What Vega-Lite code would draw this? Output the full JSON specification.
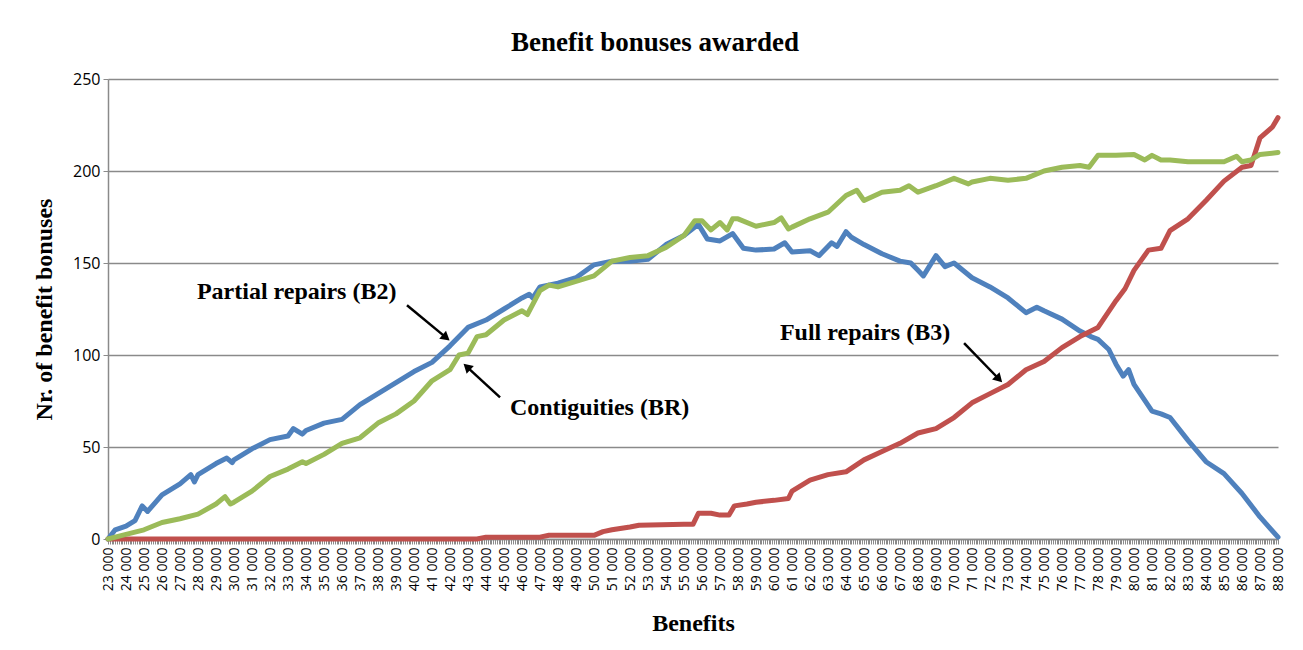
{
  "$schema": "https://vega.github.io/schema/vega-lite/v6.json",
  "width": 1170,
  "height": 460,
  "autosize": {"type": "none"},
  "padding": {"left": 108, "top": 79, "right": 25, "bottom": 111},
  "background": "white",
  "config": {"view": {"stroke": null}},
  "title": {"text": "Benefit bonuses awarded", "font": "Liberation Serif", "fontSize": 27, "fontWeight": "bold", "color": "black", "anchor": "middle", "baseline": "alphabetic", "offset": -7, "dx": -38},
  "datasets": {
    "series": [
      {"b":23000,"s":"B2","n":0},{"b":23400,"s":"B2","n":5},{"b":24000,"s":"B2","n":7},{"b":24500,"s":"B2","n":10},{"b":24900,"s":"B2","n":18},{"b":25200,"s":"B2","n":15},{"b":26000,"s":"B2","n":24},{"b":27000,"s":"B2","n":30},{"b":27600,"s":"B2","n":35},{"b":27800,"s":"B2","n":31},{"b":28000,"s":"B2","n":35},{"b":29000,"s":"B2","n":41},{"b":29600,"s":"B2","n":44},{"b":29900,"s":"B2","n":41.5},{"b":30000,"s":"B2","n":43},{"b":31000,"s":"B2","n":49},{"b":32000,"s":"B2","n":54},{"b":33000,"s":"B2","n":56},{"b":33300,"s":"B2","n":60},{"b":33800,"s":"B2","n":57},{"b":34000,"s":"B2","n":59},{"b":35000,"s":"B2","n":63},{"b":36000,"s":"B2","n":65},{"b":37000,"s":"B2","n":73},{"b":38000,"s":"B2","n":79},{"b":39000,"s":"B2","n":85},{"b":40000,"s":"B2","n":91},{"b":41000,"s":"B2","n":96},{"b":42000,"s":"B2","n":105},{"b":43000,"s":"B2","n":115},{"b":44000,"s":"B2","n":119},{"b":45000,"s":"B2","n":125},{"b":46000,"s":"B2","n":131},{"b":46400,"s":"B2","n":133},{"b":46600,"s":"B2","n":131},{"b":47000,"s":"B2","n":137},{"b":48000,"s":"B2","n":139},{"b":49000,"s":"B2","n":142},{"b":50000,"s":"B2","n":149},{"b":51000,"s":"B2","n":151},{"b":52000,"s":"B2","n":151},{"b":53000,"s":"B2","n":152},{"b":54000,"s":"B2","n":160},{"b":55000,"s":"B2","n":165},{"b":55800,"s":"B2","n":171},{"b":56300,"s":"B2","n":163},{"b":57000,"s":"B2","n":162},{"b":57700,"s":"B2","n":166},{"b":58300,"s":"B2","n":158},{"b":59000,"s":"B2","n":157},{"b":60000,"s":"B2","n":157.6},{"b":60600,"s":"B2","n":161},{"b":61000,"s":"B2","n":156},{"b":62000,"s":"B2","n":156.7},{"b":62500,"s":"B2","n":154},{"b":63200,"s":"B2","n":161},{"b":63500,"s":"B2","n":159},{"b":64000,"s":"B2","n":167},{"b":64300,"s":"B2","n":164},{"b":65000,"s":"B2","n":160},{"b":66000,"s":"B2","n":155},{"b":67000,"s":"B2","n":151},{"b":67600,"s":"B2","n":150},{"b":68000,"s":"B2","n":146},{"b":68300,"s":"B2","n":143},{"b":69000,"s":"B2","n":154},{"b":69500,"s":"B2","n":148},{"b":70000,"s":"B2","n":150},{"b":71000,"s":"B2","n":142},{"b":72000,"s":"B2","n":137},{"b":73000,"s":"B2","n":131},{"b":74000,"s":"B2","n":123},{"b":74600,"s":"B2","n":126},{"b":75000,"s":"B2","n":124},{"b":76000,"s":"B2","n":119.5},{"b":77000,"s":"B2","n":113},{"b":77600,"s":"B2","n":110},{"b":78000,"s":"B2","n":108.5},{"b":78600,"s":"B2","n":103},{"b":79000,"s":"B2","n":95},{"b":79400,"s":"B2","n":88.5},{"b":79700,"s":"B2","n":92},{"b":80000,"s":"B2","n":84},{"b":81000,"s":"B2","n":69.5},{"b":81500,"s":"B2","n":68},{"b":82000,"s":"B2","n":66},{"b":83000,"s":"B2","n":53.6},{"b":84000,"s":"B2","n":42},{"b":85000,"s":"B2","n":35.5},{"b":86000,"s":"B2","n":24.7},{"b":87000,"s":"B2","n":12},{"b":88000,"s":"B2","n":1},
      {"b":23000,"s":"BR","n":0},{"b":24000,"s":"BR","n":2.5},{"b":25000,"s":"BR","n":5},{"b":26000,"s":"BR","n":9},{"b":27000,"s":"BR","n":11},{"b":28000,"s":"BR","n":13.5},{"b":29000,"s":"BR","n":19},{"b":29500,"s":"BR","n":23},{"b":29800,"s":"BR","n":19},{"b":30000,"s":"BR","n":20},{"b":31000,"s":"BR","n":26},{"b":32000,"s":"BR","n":34},{"b":33000,"s":"BR","n":38},{"b":33800,"s":"BR","n":42},{"b":34000,"s":"BR","n":41},{"b":35000,"s":"BR","n":46},{"b":36000,"s":"BR","n":52},{"b":37000,"s":"BR","n":55},{"b":38000,"s":"BR","n":63},{"b":39000,"s":"BR","n":68},{"b":40000,"s":"BR","n":75},{"b":41000,"s":"BR","n":86},{"b":42000,"s":"BR","n":92},{"b":42500,"s":"BR","n":100},{"b":43000,"s":"BR","n":101},{"b":43500,"s":"BR","n":110},{"b":44000,"s":"BR","n":111},{"b":45000,"s":"BR","n":119},{"b":46000,"s":"BR","n":124},{"b":46300,"s":"BR","n":122},{"b":47000,"s":"BR","n":135},{"b":47500,"s":"BR","n":138},{"b":48000,"s":"BR","n":137},{"b":49000,"s":"BR","n":140},{"b":50000,"s":"BR","n":143},{"b":51000,"s":"BR","n":151},{"b":52000,"s":"BR","n":153},{"b":53000,"s":"BR","n":154},{"b":54000,"s":"BR","n":158.5},{"b":55000,"s":"BR","n":165},{"b":55600,"s":"BR","n":173},{"b":56000,"s":"BR","n":173},{"b":56500,"s":"BR","n":168},{"b":57000,"s":"BR","n":172},{"b":57400,"s":"BR","n":168},{"b":57700,"s":"BR","n":174},{"b":58000,"s":"BR","n":174},{"b":59000,"s":"BR","n":170},{"b":60000,"s":"BR","n":172},{"b":60400,"s":"BR","n":174.5},{"b":60800,"s":"BR","n":168.5},{"b":61000,"s":"BR","n":169.5},{"b":62000,"s":"BR","n":174},{"b":63000,"s":"BR","n":177.6},{"b":64000,"s":"BR","n":186.7},{"b":64600,"s":"BR","n":189.5},{"b":65000,"s":"BR","n":184},{"b":66000,"s":"BR","n":188.5},{"b":67000,"s":"BR","n":189.5},{"b":67500,"s":"BR","n":192},{"b":68000,"s":"BR","n":188.5},{"b":69000,"s":"BR","n":192},{"b":70000,"s":"BR","n":196},{"b":70800,"s":"BR","n":193},{"b":71000,"s":"BR","n":194},{"b":72000,"s":"BR","n":196},{"b":73000,"s":"BR","n":195},{"b":74000,"s":"BR","n":196},{"b":75000,"s":"BR","n":200},{"b":76000,"s":"BR","n":202},{"b":77000,"s":"BR","n":203},{"b":77500,"s":"BR","n":202},{"b":78000,"s":"BR","n":208.5},{"b":79000,"s":"BR","n":208.5},{"b":80000,"s":"BR","n":209},{"b":80600,"s":"BR","n":206},{"b":81000,"s":"BR","n":208.5},{"b":81500,"s":"BR","n":206},{"b":82000,"s":"BR","n":206},{"b":83000,"s":"BR","n":205},{"b":84000,"s":"BR","n":205},{"b":85000,"s":"BR","n":205},{"b":85700,"s":"BR","n":208},{"b":86000,"s":"BR","n":205},{"b":86500,"s":"BR","n":206},{"b":87000,"s":"BR","n":209},{"b":88000,"s":"BR","n":210},
      {"b":23000,"s":"B3","n":0},{"b":43500,"s":"B3","n":0},{"b":44000,"s":"B3","n":1},{"b":47000,"s":"B3","n":1},{"b":47500,"s":"B3","n":2},{"b":50000,"s":"B3","n":2},{"b":50500,"s":"B3","n":4},{"b":51000,"s":"B3","n":5},{"b":52000,"s":"B3","n":6.5},{"b":52500,"s":"B3","n":7.5},{"b":55000,"s":"B3","n":8},{"b":55500,"s":"B3","n":8},{"b":55800,"s":"B3","n":14},{"b":56500,"s":"B3","n":14},{"b":57000,"s":"B3","n":13},{"b":57500,"s":"B3","n":13},{"b":57800,"s":"B3","n":18},{"b":58500,"s":"B3","n":19},{"b":59000,"s":"B3","n":20},{"b":60000,"s":"B3","n":21},{"b":60800,"s":"B3","n":22},{"b":61000,"s":"B3","n":26},{"b":62000,"s":"B3","n":32},{"b":63000,"s":"B3","n":35},{"b":64000,"s":"B3","n":36.5},{"b":65000,"s":"B3","n":43},{"b":66000,"s":"B3","n":47.5},{"b":67000,"s":"B3","n":52},{"b":68000,"s":"B3","n":57.6},{"b":69000,"s":"B3","n":60},{"b":70000,"s":"B3","n":66},{"b":71000,"s":"B3","n":74},{"b":72000,"s":"B3","n":79},{"b":73000,"s":"B3","n":84},{"b":74000,"s":"B3","n":92},{"b":75000,"s":"B3","n":96.5},{"b":76000,"s":"B3","n":104},{"b":77000,"s":"B3","n":110},{"b":78000,"s":"B3","n":115},{"b":79000,"s":"B3","n":129.5},{"b":79500,"s":"B3","n":136},{"b":80000,"s":"B3","n":146},{"b":80800,"s":"B3","n":157},{"b":81500,"s":"B3","n":158},{"b":82000,"s":"B3","n":167.6},{"b":83000,"s":"B3","n":174},{"b":84000,"s":"B3","n":184},{"b":85000,"s":"B3","n":194.5},{"b":86000,"s":"B3","n":202},{"b":86500,"s":"B3","n":203},{"b":87000,"s":"B3","n":218},{"b":87700,"s":"B3","n":224},{"b":88000,"s":"B3","n":229}
    ],
    "labels": [
      {"id":"B2","t":"Partial repairs (B2)","b":27940,"n":134},
      {"id":"BR","t":"Contiguities (BR)","b":45330,"n":71},
      {"id":"B3","t":"Full repairs (B3)","b":60330,"n":112}
    ],
    "arrows": [
      {"id":"B2","b":39610,"n":127,"b2":41720,"n2":110},
      {"id":"BR","b":44780,"n":77,"b2":43000,"n2":93},
      {"id":"B3","b":70560,"n":106.5,"b2":72440,"n2":87.5}
    ]
  },
  "layer": [
    {
      "data": {"name": "series"},
      "transform": [{"filter": "datum.s === 'B2'"}],
      "mark": {"type": "line", "color": "#4F81BD", "strokeWidth": 5, "strokeJoin": "round", "strokeCap": "round"},
      "encoding": {
        "x": {"field": "b", "type": "quantitative", "scale": {"domain": [23000, 88000], "nice": false, "zero": false},
          "axis": {"title": "Benefits", "titleFont": "Liberation Serif", "titleFontSize": 24, "titleFontWeight": "bold", "titleColor": "black", "titlePadding": 21,
            "tickCount": 650, "labelExpr": "datum.value % 1000 === 0 ? replace(format(datum.value, ','), ',', ' ') : ''",
            "labelAngle": -90, "labelAlign": "right", "labelBaseline": "middle", "labelFont": "Open Sans", "labelFontSize": 14, "labelColor": "black",
            "labelOverlap": false, "labelFlush": false, "labelBound": false, "labelPadding": 3,
            "grid": false, "tickColor": "#8a8a8a", "tickSize": 5, "domainColor": "#8a8a8a", "domainWidth": 1.5}},
        "y": {"field": "n", "type": "quantitative", "scale": {"domain": [0, 250], "nice": false},
          "axis": {"title": "Nr. of benefit bonuses", "titleFont": "Liberation Serif", "titleFontSize": 24, "titleFontWeight": "bold", "titleColor": "black", "titlePadding": 16,
            "values": [0, 50, 100, 150, 200, 250], "labelFont": "Open Sans", "labelFontSize": 16, "labelColor": "black", "labelPadding": 3,
            "grid": true, "gridColor": "#8a8a8a", "gridWidth": 1.3, "tickColor": "#8a8a8a", "tickSize": 5, "domainColor": "#8a8a8a", "domainWidth": 1.5}}
      }
    },
    {
      "data": {"name": "series"},
      "transform": [{"filter": "datum.s === 'B3'"}],
      "mark": {"type": "line", "color": "#C0504D", "strokeWidth": 5, "strokeJoin": "round", "strokeCap": "round"},
      "encoding": {"x": {"field": "b", "type": "quantitative"}, "y": {"field": "n", "type": "quantitative"}}
    },
    {
      "data": {"name": "series"},
      "transform": [{"filter": "datum.s === 'BR'"}],
      "mark": {"type": "line", "color": "#9BBB59", "strokeWidth": 5, "strokeJoin": "round", "strokeCap": "round"},
      "encoding": {"x": {"field": "b", "type": "quantitative"}, "y": {"field": "n", "type": "quantitative"}}
    },
    {
      "data": {"name": "arrows"},
      "mark": {"type": "rule", "color": "black", "strokeWidth": 2.5},
      "encoding": {"x": {"field": "b", "type": "quantitative"}, "y": {"field": "n", "type": "quantitative"}, "x2": {"field": "b2"}, "y2": {"field": "n2"}}
    },
    {
      "data": {"name": "arrows"},
      "transform": [{"filter": "datum.id === 'B2'"}],
      "mark": {"type": "point", "shape": "triangle", "filled": true, "color": "black", "size": 110, "opacity": 1, "angle": 130},
      "encoding": {"x": {"field": "b2", "type": "quantitative"}, "y": {"field": "n2", "type": "quantitative"}}
    },
    {
      "data": {"name": "arrows"},
      "transform": [{"filter": "datum.id === 'BR'"}],
      "mark": {"type": "point", "shape": "triangle", "filled": true, "color": "black", "size": 110, "opacity": 1, "angle": 313},
      "encoding": {"x": {"field": "b2", "type": "quantitative"}, "y": {"field": "n2", "type": "quantitative"}}
    },
    {
      "data": {"name": "arrows"},
      "transform": [{"filter": "datum.id === 'B3'"}],
      "mark": {"type": "point", "shape": "triangle", "filled": true, "color": "black", "size": 110, "opacity": 1, "angle": 136},
      "encoding": {"x": {"field": "b2", "type": "quantitative"}, "y": {"field": "n2", "type": "quantitative"}}
    },
    {
      "data": {"name": "labels"},
      "mark": {"type": "text", "align": "left", "baseline": "middle", "font": "Liberation Serif", "fontSize": 24, "fontWeight": "bold", "color": "black"},
      "encoding": {"x": {"field": "b", "type": "quantitative"}, "y": {"field": "n", "type": "quantitative"}, "text": {"field": "t"}}
    }
  ]
}
